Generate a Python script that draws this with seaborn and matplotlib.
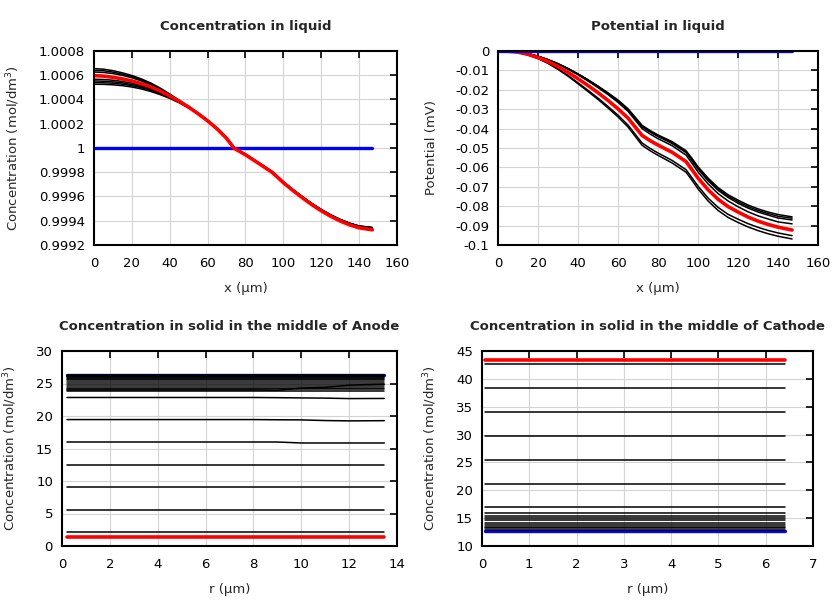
import matplotlib
matplotlib.use('Agg')
import matplotlib.pyplot as plt
from matplotlib.ticker import MultipleLocator, FuncFormatter
import seaborn as sns
import pandas as pd

# ===========================================================
# DATA
# ===========================================================
# Concentration in liquid (mol/dm3) vs x (um)
X_LIQ = [0, 5, 10, 15, 20, 25, 30, 35, 40, 45, 50, 55, 60, 65, 70, 74, 80, 87, 94, 97,
         100, 105, 110, 115, 120, 125, 130, 135, 140, 147]
LIQ_INIT = [1.0] * len(X_LIQ)
LIQ_U1 = [1.000655, 1.000650, 1.000638, 1.000620, 1.000598, 1.000570, 1.000536, 1.000494, 1.000445, 1.000393,
          1.000341, 1.000287, 1.000228, 1.000162, 1.000084, 1.000002, 0.999949, 0.999878, 0.999806, 0.999764,
          0.999721, 0.999658, 0.999599, 0.999543, 0.999493, 0.999449, 0.999411, 0.999380, 0.999357, 0.999344]
LIQ_U2 = [1.000641, 1.000637, 1.000626, 1.000609, 1.000588, 1.000561, 1.000528, 1.000488, 1.000441, 1.000391,
          1.000340, 1.000286, 1.000227, 1.000161, 1.000083, 1.000001, 0.999948, 0.999877, 0.999805, 0.999763,
          0.999720, 0.999657, 0.999598, 0.999542, 0.999492, 0.999448, 0.999410, 0.999379, 0.999356, 0.999343]
LIQ_U3 = [1.000627, 1.000623, 1.000614, 1.000599, 1.000579, 1.000553, 1.000521, 1.000483, 1.000438, 1.000390,
          1.000339, 1.000285, 1.000226, 1.000160, 1.000082, 1.000000, 0.999947, 0.999876, 0.999804, 0.999762,
          0.999719, 0.999656, 0.999597, 0.999541, 0.999491, 0.999447, 0.999409, 0.999378, 0.999355, 0.999342]
LIQ_L1 = [1.000567, 1.000565, 1.000559, 1.000549, 1.000535, 1.000516, 1.000492, 1.000461, 1.000424, 1.000383,
          1.000336, 1.000283, 1.000225, 1.000159, 1.000081, 0.999999, 0.999946, 0.999875, 0.999803, 0.999761,
          0.999718, 0.999655, 0.999596, 0.999540, 0.999490, 0.999446, 0.999408, 0.999377, 0.999354, 0.999341]
LIQ_L2 = [1.000553, 1.000551, 1.000546, 1.000537, 1.000524, 1.000506, 1.000483, 1.000454, 1.000419, 1.000380,
          1.000334, 1.000282, 1.000224, 1.000158, 1.000080, 0.999998, 0.999945, 0.999874, 0.999802, 0.999760,
          0.999717, 0.999654, 0.999595, 0.999539, 0.999489, 0.999445, 0.999407, 0.999376, 0.999353, 0.999340]
LIQ_L3 = [1.000540, 1.000538, 1.000534, 1.000526, 1.000514, 1.000497, 1.000475, 1.000447, 1.000414, 1.000376,
          1.000332, 1.000281, 1.000223, 1.000157, 1.000079, 0.999997, 0.999944, 0.999873, 0.999801, 0.999759,
          0.999716, 0.999653, 0.999594, 0.999538, 0.999488, 0.999444, 0.999406, 0.999375, 0.999352, 0.999339]
LIQ_L4 = [1.000526, 1.000525, 1.000521, 1.000514, 1.000503, 1.000487, 1.000466, 1.000440, 1.000409, 1.000373,
          1.000330, 1.000280, 1.000222, 1.000156, 1.000078, 0.999996, 0.999943, 0.999872, 0.999800, 0.999758,
          0.999715, 0.999652, 0.999593, 0.999537, 0.999487, 0.999443, 0.999405, 0.999374, 0.999351, 0.999338]
LIQ_FINAL = [1.000597, 1.000593, 1.000583, 1.000570, 1.000553, 1.000531, 1.000505, 1.000470, 1.000430, 1.000386,
             1.000337, 1.000283, 1.000224, 1.000158, 1.000080, 0.999998, 0.999944, 0.999873, 0.999800, 0.999758,
             0.999714, 0.999650, 0.999590, 0.999533, 0.999482, 0.999437, 0.999398, 0.999366, 0.999342, 0.999325]

# Potential in liquid (mV) vs x (um)
X_POT = [0, 5, 10, 15, 20, 25, 30, 35, 40, 45, 50, 55, 60, 65, 72, 76, 80, 87, 94, 97,
         100, 105, 110, 115, 120, 125, 130, 135, 140, 147]
POT_INIT = [0.0] * len(X_POT)
POT_T1 = [0, -0.0001, -0.0005, -0.0014, -0.0027, -0.0044, -0.0065, -0.0090, -0.0118, -0.0148,
          -0.0181, -0.0216, -0.0253, -0.0298, -0.0383, -0.0410, -0.0433, -0.0467, -0.0514, -0.0554,
          -0.0597, -0.0655, -0.0704, -0.0741, -0.0769, -0.0794, -0.0814, -0.0830, -0.0843, -0.0855]
POT_T2 = [0, -0.0001, -0.0005, -0.0014, -0.0027, -0.0045, -0.0066, -0.0091, -0.0119, -0.0150,
          -0.0183, -0.0218, -0.0256, -0.0301, -0.0387, -0.0414, -0.0437, -0.0472, -0.0519, -0.0560,
          -0.0603, -0.0662, -0.0711, -0.0748, -0.0777, -0.0802, -0.0822, -0.0838, -0.0852, -0.0862]
POT_T3 = [0, -0.0001, -0.0005, -0.0014, -0.0027, -0.0045, -0.0067, -0.0092, -0.0120, -0.0152,
          -0.0185, -0.0220, -0.0259, -0.0304, -0.0391, -0.0418, -0.0441, -0.0477, -0.0524, -0.0566,
          -0.0609, -0.0669, -0.0718, -0.0755, -0.0785, -0.0810, -0.0830, -0.0846, -0.0861, -0.0871]
POT_T4 = [0, -0.0001, -0.0005, -0.0014, -0.0028, -0.0047, -0.0068, -0.0094, -0.0123, -0.0155,
          -0.0189, -0.0225, -0.0265, -0.0311, -0.0400, -0.0428, -0.0452, -0.0488, -0.0537, -0.0579,
          -0.0624, -0.0685, -0.0735, -0.0773, -0.0803, -0.0829, -0.0850, -0.0866, -0.0881, -0.0891]
POT_D1 = [0, -0.0001, -0.0007, -0.0020, -0.0038, -0.0062, -0.0092, -0.0126, -0.0164, -0.0203,
          -0.0243, -0.0286, -0.0331, -0.0382, -0.0474, -0.0502, -0.0526, -0.0564, -0.0612, -0.0654,
          -0.0697, -0.0758, -0.0806, -0.0842, -0.0867, -0.0890, -0.0909, -0.0925, -0.0938, -0.0952]
POT_D2 = [0, -0.0001, -0.0007, -0.0021, -0.0039, -0.0064, -0.0095, -0.0130, -0.0169, -0.0209,
          -0.0250, -0.0294, -0.0340, -0.0392, -0.0486, -0.0514, -0.0538, -0.0577, -0.0625, -0.0667,
          -0.0711, -0.0773, -0.0822, -0.0858, -0.0884, -0.0907, -0.0926, -0.0942, -0.0955, -0.0969]
POT_FINAL = [0, -0.0001, -0.0006, -0.0017, -0.0033, -0.0054, -0.0080, -0.0110, -0.0143, -0.0178,
             -0.0215, -0.0255, -0.0298, -0.0346, -0.0435, -0.0462, -0.0485, -0.0522, -0.0570, -0.0612,
             -0.0655, -0.0715, -0.0764, -0.0802, -0.0830, -0.0856, -0.0877, -0.0894, -0.0908, -0.0923]

# Solid concentration, middle of anode (mol/dm3) vs r (um)
R_AN = [0.21, 7.0, 8.0, 9.0, 10.0, 11.0, 12.0, 13.47]
AN_INIT = 26.3
AN_FLAT = [2.1, 5.5, 9.05, 12.45, 23.85, 24.1, 24.35, 24.65, 24.9, 25.2, 25.5,
           25.7, 25.85, 26.0, 26.1, 26.2, 26.3]
AN_W1 = [16.0, 16.0, 16.0, 16.0, 15.85, 15.85, 15.85, 15.85]
AN_W2 = [19.45, 19.45, 19.45, 19.42, 19.40, 19.30, 19.25, 19.28]
AN_W3 = [22.85, 22.85, 22.85, 22.82, 22.78, 22.75, 22.68, 22.70]
AN_W4 = [24.0, 24.0, 24.0, 23.95, 24.3, 24.4, 24.75, 24.9]
AN_FINAL = 1.44

# Solid concentration, middle of cathode (mol/dm3) vs r (um)
R_CA = [0.07, 6.4]
CA_INIT = 12.64
CA_FLAT = [42.7, 38.33, 34.07, 29.75, 25.43, 21.16, 16.96, 15.88, 15.46, 15.04, 14.62,
           14.2, 13.78, 13.48, 13.18, 12.88]
CA_FINAL = 43.43

BLACK, RED, BLUE = 'black', '#ff0000', '#0000ff'
LW_K, LW_R, LW_B = 1.1, 2.6, 2.4


# ===========================================================
# HELPERS
# ===========================================================
def draw(ax, x, y, color, lw):
    df = pd.DataFrame({'x': x, 'y': y})
    sns.lineplot(data=df, x='x', y='y', ax=ax, color=color, lw=lw,
                 estimator=None, sort=False)


def style(ax, title, xlabel, ylabel, xlim, ylim, xstep, ystep):
    ax.set_xlim(*xlim)
    ax.set_ylim(*ylim)
    ax.xaxis.set_major_locator(MultipleLocator(xstep))
    ax.yaxis.set_major_locator(MultipleLocator(ystep))
    ax.yaxis.set_major_formatter(FuncFormatter(lambda v, p: '%g' % round(v, 6)))
    ax.xaxis.set_major_formatter(FuncFormatter(lambda v, p: '%g' % round(v, 6)))
    ax.grid(True, color='#d4d4d4', lw=0.8)
    ax.set_axisbelow(True)
    ax.tick_params(direction='in', length=5, width=1.2, top=True, right=True,
                   labelsize=9.5, colors='black')
    ax.tick_params(axis='x', pad=9)
    ax.tick_params(axis='y', pad=6.5)
    for s in ax.spines.values():
        s.set_color('black')
        s.set_linewidth(1.5)
    ax.set_title(title, fontsize=9.5, fontweight='bold', pad=15)
    ax.set_xlabel(xlabel, fontsize=9.5, labelpad=8)
    ax.set_ylabel(ylabel, fontsize=9.5, labelpad=12)


sns.set_theme(style='white')
plt.rcParams['font.family'] = ['DejaVu Sans']

fig = plt.figure(figsize=(8.4, 6.0), dpi=100)
ax1 = fig.add_axes([0.1119, 0.5917, 0.3607, 0.3233])
ax2 = fig.add_axes([0.5929, 0.5917, 0.3810, 0.3233])
ax3 = fig.add_axes([0.0738, 0.0900, 0.3988, 0.3250])
ax4 = fig.add_axes([0.5738, 0.0900, 0.3940, 0.3250])

# --- Concentration in liquid
for c in [LIQ_U1, LIQ_U2, LIQ_U3, LIQ_L1, LIQ_L2, LIQ_L3, LIQ_L4]:
    draw(ax1, X_LIQ, c, BLACK, LW_K)
draw(ax1, X_LIQ, LIQ_INIT, BLUE, LW_B)
draw(ax1, X_LIQ, LIQ_FINAL, RED, LW_R)
style(ax1, 'Concentration in liquid', 'x (µm)', 'Concentration (mol/dm$^3$)',
      (0, 160), (0.9992, 1.0008), 20, 0.0002)

# --- Potential in liquid
for c in [POT_T1, POT_T2, POT_T3, POT_T4, POT_D1, POT_D2]:
    draw(ax2, X_POT, c, BLACK, LW_K)
draw(ax2, X_POT, POT_FINAL, RED, LW_R)
draw(ax2, X_POT, POT_INIT, BLUE, LW_B)
style(ax2, 'Potential in liquid', 'x (µm)', 'Potential (mV)',
      (0, 160), (-0.1, 0), 20, 0.01)

# --- Anode solid
draw(ax3, [R_AN[0], R_AN[-1]], [AN_INIT, AN_INIT], BLUE, LW_B)
for v in AN_FLAT:
    draw(ax3, [R_AN[0], R_AN[-1]], [v, v], BLACK, LW_K)
for c in [AN_W1, AN_W2, AN_W3, AN_W4]:
    draw(ax3, R_AN, c, BLACK, LW_K)
draw(ax3, [R_AN[0], R_AN[-1]], [AN_FINAL, AN_FINAL], RED, LW_R)
style(ax3, 'Concentration in solid in the middle of Anode', 'r (µm)',
      'Concentration (mol/dm$^3$)', (0, 14), (0, 30), 2, 5)

# --- Cathode solid
draw(ax4, R_CA, [CA_INIT, CA_INIT], BLUE, LW_B)
for v in CA_FLAT:
    draw(ax4, R_CA, [v, v], BLACK, LW_K)
draw(ax4, R_CA, [CA_FINAL, CA_FINAL], RED, LW_R)
style(ax4, 'Concentration in solid in the middle of Cathode', 'r (µm)',
      'Concentration (mol/dm$^3$)', (0, 7), (10, 45), 1, 5)

fig.savefig('out.png', dpi=100)
